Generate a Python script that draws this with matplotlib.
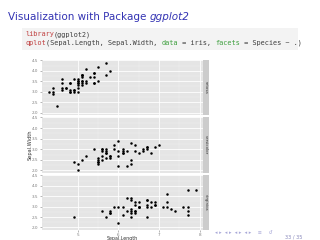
import matplotlib
matplotlib.use("Agg")
import matplotlib.pyplot as plt
import numpy as np

# iris data, Sepal.Length / Sepal.Width by species
setosa_len = [5.1, 4.9, 4.7, 4.6, 5.0, 5.4, 4.6, 5.0, 4.4, 4.9, 5.4, 4.8, 4.8, 4.3, 5.8, 5.7, 5.4,
              5.1, 5.7, 5.1, 5.4, 5.1, 4.6, 5.1, 4.8, 5.0, 5.0, 5.2, 5.2, 4.7, 4.8, 5.4, 5.2, 5.5,
              4.9, 5.0, 5.5, 4.9, 4.4, 5.1, 5.0, 4.5, 4.4, 5.0, 5.1, 4.8, 5.1, 4.6, 5.3, 5.0]
setosa_wid = [3.5, 3.0, 3.2, 3.1, 3.6, 3.9, 3.4, 3.4, 2.9, 3.1, 3.7, 3.4, 3.0, 3.0, 4.0, 4.4, 3.9,
              3.5, 3.8, 3.8, 3.4, 3.7, 3.6, 3.3, 3.4, 3.0, 3.4, 3.5, 3.4, 3.2, 3.1, 3.4, 4.1, 4.2,
              3.1, 3.2, 3.5, 3.6, 3.0, 3.4, 3.5, 2.3, 3.2, 3.5, 3.8, 3.0, 3.8, 3.2, 3.7, 3.3]
versicolor_len = [7.0, 6.4, 6.9, 5.5, 6.5, 5.7, 6.3, 4.9, 6.6, 5.2, 5.0, 5.9, 6.0, 6.1, 5.6, 6.7,
                  5.6, 5.8, 6.2, 5.6, 5.9, 6.1, 6.3, 6.1, 6.4, 6.6, 6.8, 6.7, 6.0, 5.7, 5.5, 5.5,
                  5.8, 6.0, 5.4, 6.0, 6.7, 6.3, 5.6, 5.5, 5.5, 6.1, 5.8, 5.0, 5.6, 5.7, 5.7, 6.2,
                  5.1, 5.7]
versicolor_wid = [3.2, 3.2, 3.1, 2.3, 2.8, 2.8, 3.3, 2.4, 2.9, 2.7, 2.0, 3.0, 2.2, 2.9, 2.9, 3.1,
                  3.0, 2.7, 2.2, 2.5, 3.2, 2.8, 2.5, 2.8, 2.9, 3.0, 2.8, 3.0, 2.9, 2.6, 2.4, 2.4,
                  2.7, 2.7, 3.0, 3.4, 3.1, 2.3, 3.0, 2.5, 2.6, 3.0, 2.6, 2.3, 2.7, 3.0, 2.9, 2.9,
                  2.5, 2.8]
virginica_len = [6.3, 5.8, 7.1, 6.3, 6.5, 7.6, 4.9, 7.3, 6.7, 7.2, 6.5, 6.4, 6.8, 5.7, 5.8, 6.4,
                 6.5, 7.7, 7.7, 6.0, 6.9, 5.6, 7.7, 6.3, 6.7, 7.2, 6.2, 6.1, 6.4, 7.2, 7.4, 7.9,
                 6.4, 6.3, 6.1, 7.7, 6.3, 6.4, 6.0, 6.9, 6.7, 6.9, 5.8, 6.8, 6.7, 6.7, 6.3, 6.5,
                 6.2, 5.9]
virginica_wid = [3.3, 2.7, 3.0, 2.9, 3.0, 3.0, 2.5, 2.9, 2.5, 3.6, 3.2, 2.7, 3.0, 2.5, 2.8, 3.2,
                 3.0, 3.8, 2.6, 2.2, 3.2, 2.8, 2.8, 2.7, 3.3, 3.2, 2.8, 3.0, 2.8, 3.0, 2.8, 3.8,
                 2.8, 2.8, 2.6, 3.0, 3.4, 3.1, 3.0, 3.1, 3.1, 3.1, 2.7, 3.2, 3.3, 3.0, 2.5, 3.0,
                 3.4, 3.0]

species = ["setosa", "versicolor", "virginica"]
xs = [setosa_len, versicolor_len, virginica_len]
ys = [setosa_wid, versicolor_wid, virginica_wid]
x_ticks = [5, 6, 7, 8]
y_ticks = [2.0, 2.5, 3.0, 3.5, 4.0, 4.5]

W, H = 320, 240
fig = plt.figure(figsize=(3.2, 2.4), dpi=100)
fig.patch.set_facecolor("white")
renderer = fig.canvas.get_renderer()

def px(x0, y0, x1, y1):
    return [x0 / W, 1 - y1 / H, (x1 - x0) / W, (y1 - y0) / H]

# title
blue = "#3333B3"
t1 = fig.text(8 / W, 1 - 20 / H, "Visualization with Package ", color=blue, fontsize=7.5,
              ha="left", va="baseline")
x_end = t1.get_window_extent(renderer).x1
fig.text(x_end / W, 1 - 20 / H, "ggplot2", color=blue, fontsize=7.5, style="italic",
         ha="left", va="baseline")

# code block
code_ax = fig.add_axes(px(22, 28, 298, 50))
code_ax.set_facecolor("#F3F3F3")
code_ax.set_xticks([])
code_ax.set_yticks([])
for s in code_ax.spines.values():
    s.set_visible(False)

fs_code = 4.95
red, green, dark = "#C04040", "#40A040", "#404040"
line1 = [("library", red), ("(ggplot2)", dark)]
line2 = [("qplot", red), ("(Sepal.Length, Sepal.Width, ", dark), ("data", green),
         (" = iris, ", dark), ("facets", green), (" = Species ~ .)", dark)]
for parts, yb in [(line1, 36), (line2, 45)]:
    x = 25
    for txt, col in parts:
        t = fig.text(x / W, 1 - yb / H, txt, color=col, fontsize=fs_code,
                     family="DejaVu Sans Mono", ha="left", va="baseline")
        x += len(txt) * 0.602 * fs_code * 100 / 72

# facet panels
panels = [(60, 115), (117, 173), (175, 230)]
xlo, xhi = 4.3 - 0.18, 7.9 + 0.18
ylo, yhi = 2.0 - 0.12, 4.4 + 0.12
for i, (y0, y1) in enumerate(panels):
    ax = fig.add_axes(px(42, y0, 203, y1))
    ax.set_facecolor("#E5E5E5")
    ax.set_xlim(xlo, xhi)
    ax.set_ylim(ylo, yhi)
    ax.set_xticks(x_ticks)
    ax.set_yticks(y_ticks)
    ax.set_xticks([5.5, 6.5, 7.5], minor=True)
    ax.set_yticks([2.25, 2.75, 3.25, 3.75, 4.25], minor=True)
    ax.grid(True, which="major", color="white", lw=0.6)
    ax.grid(True, which="minor", color="#F2F2F2", lw=0.3)
    ax.set_axisbelow(True)
    for s in ax.spines.values():
        s.set_visible(False)
    ax.tick_params(which="major", length=1.2, color="#7F7F7F", width=0.4,
                   labelsize=3, labelcolor="#7F7F7F", pad=1.2)
    ax.tick_params(which="minor", length=0)
    ax.set_yticklabels(["%.1f" % v for v in y_ticks])
    if i < 2:
        ax.set_xticklabels([])
        ax.tick_params(axis="x", length=0)
    ax.plot(xs[i], ys[i], "o", color="black", ms=1.8, mew=0)

    sax = fig.add_axes(px(203, y0, 209, y1))
    sax.set_facecolor("#CCCCCC")
    sax.set_xticks([])
    sax.set_yticks([])
    for s in sax.spines.values():
        s.set_visible(False)
    sax.text(0.5, 0.5, species[i], rotation=-90, ha="center", va="center",
             fontsize=2.8, color="#333333", transform=sax.transAxes)

fig.text(30 / W, 1 - 145 / H, "Sepal.Width", rotation=90, ha="center", va="center",
         fontsize=3.6, color="#333333")
fig.text(122 / W, 1 - 238.5 / H, "Sepal.Length", ha="center", va="center",
         fontsize=3.4, color="#333333")

# beamer navigation
nav = "\u25c2 \u25b8  \u25c2 \u25b8  \u25c2 \u25b8  \u25c2 \u25b8    \u2261    \u21ba"
fig.text(215 / W, 1 - 232 / H, nav, ha="left", va="center", fontsize=3.6, color="#A8A8D8")
fig.text(302 / W, 1 - 239.5 / H, "33 / 35", ha="right", va="bottom", fontsize=3.6,
         color="#8888BB")

fig.savefig("out.png", dpi=100)
